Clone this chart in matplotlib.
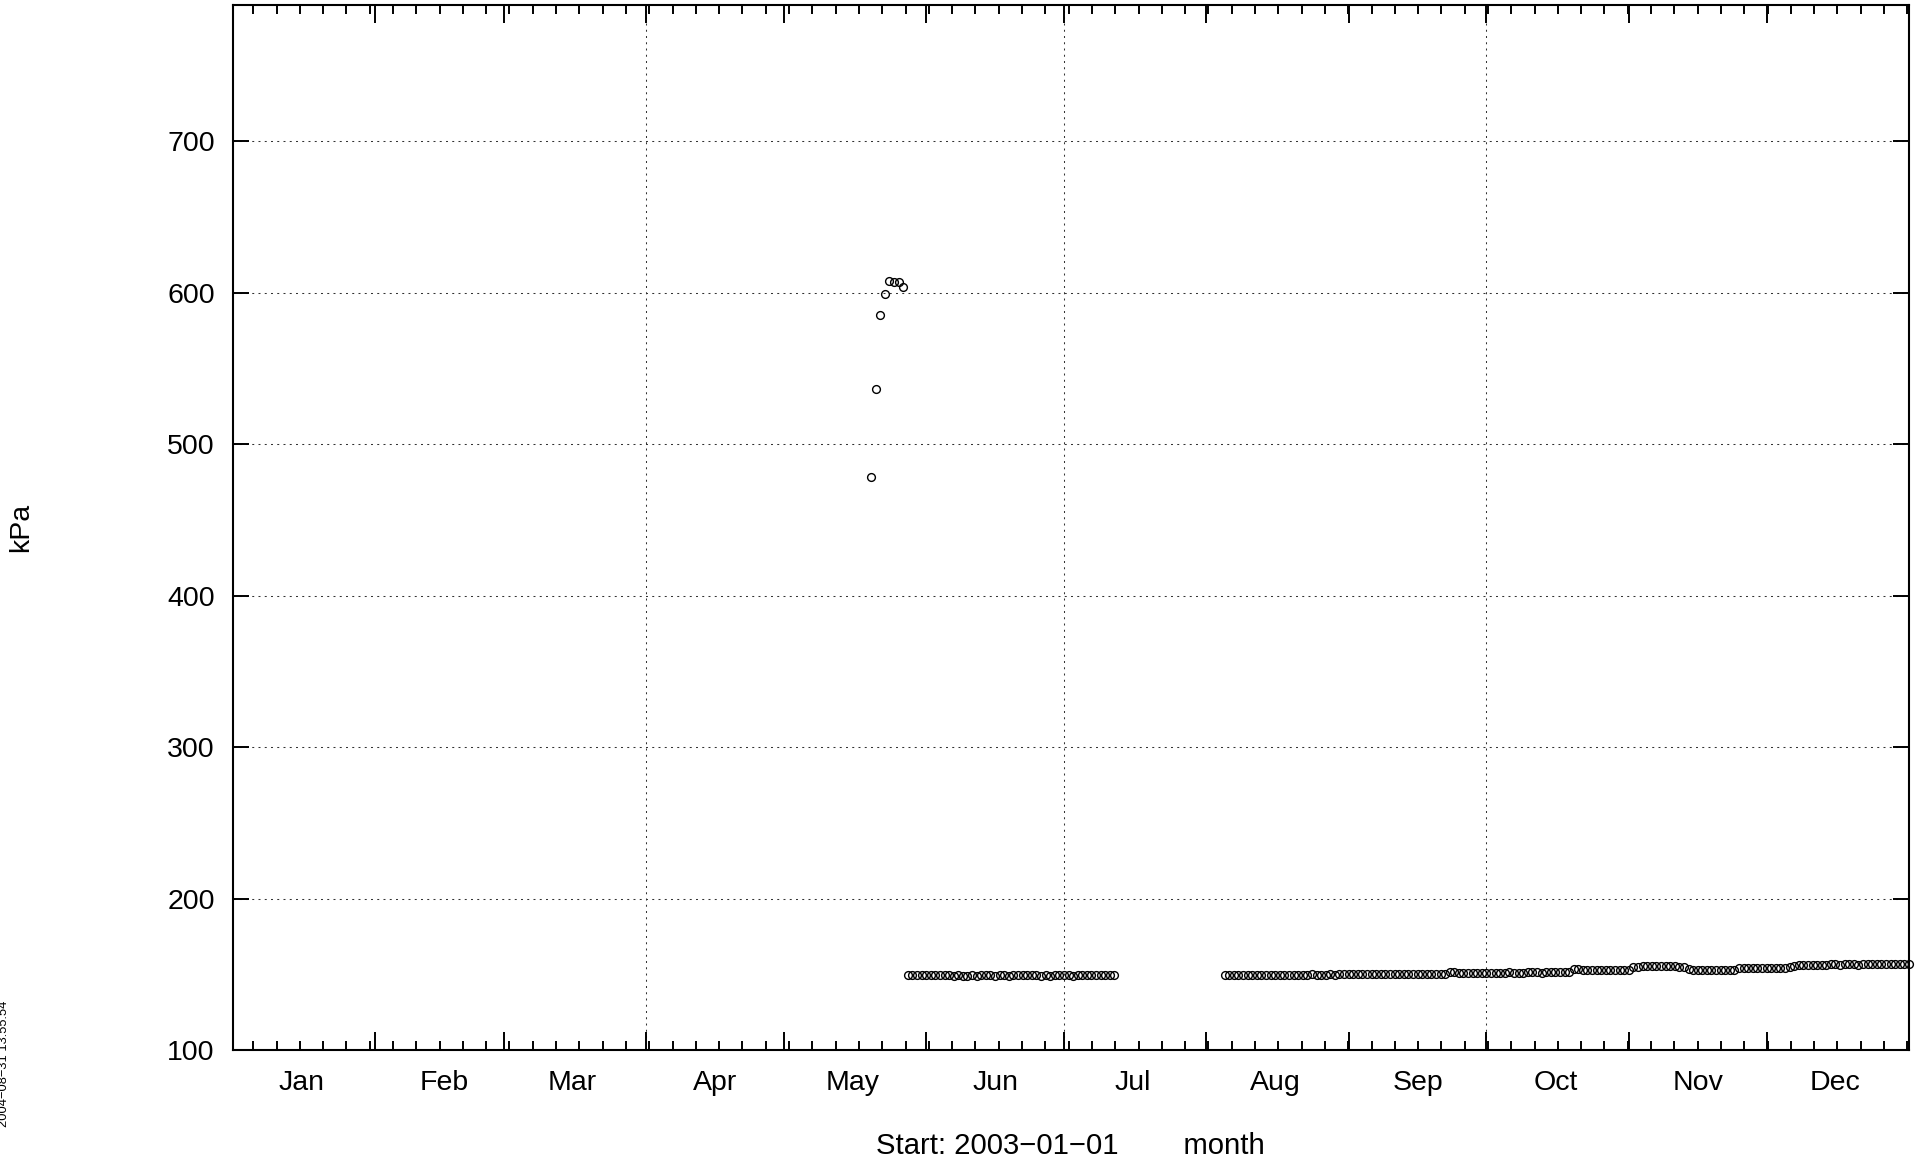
import numpy as np
import pandas as pd
import matplotlib
matplotlib.use("Agg")
import matplotlib.pyplot as plt
import matplotlib.dates as mdates
from datetime import datetime

plt.rcParams['font.family'] = ['Liberation Sans', 'DejaVu Sans']

# ---------------- dados ----------------
# pressão (kPa), valores diários
inicio_pico = "2003-05-20"
valores_pico = [478.5, 536.5, 585.0, 599.0, 607.5, 607.3, 607.0, 604.0]

inicio_meio = "2003-05-28"
valores_meio = [149.6, 149.5, 149.5, 149.4, 149.5, 149.4, 149.3, 149.4, 149.3, 149.3,
                149.2, 149.3, 149.2, 149.2, 149.3, 149.2, 149.3, 149.4, 149.3, 149.2,
                149.3, 149.3, 149.2, 149.3, 149.4, 149.3, 149.3, 149.4, 149.3, 149.2,
                149.3, 149.2, 149.3, 149.3, 149.4, 149.3, 149.2, 149.3, 149.4, 149.3,
                149.4, 149.3, 149.4, 149.4, 149.3, 149.4]

inicio_fim = "2003-08-05"
valores_fim = [149.6, 149.5, 149.6, 149.5, 149.5, 149.6, 149.5, 149.6, 149.7, 149.6,
               149.5, 149.7, 149.6, 149.7, 149.8, 149.7, 149.6, 149.7, 149.8, 149.9,
               149.8, 149.7, 149.8, 149.9, 149.8,
               150.0, 149.9, 150.0, 150.1, 150.0, 150.1, 150.2, 150.1, 150.0, 150.1,
               150.2, 150.3, 150.2, 150.1, 150.2, 150.3, 150.2, 150.3, 150.4, 150.3,
               150.2, 150.3, 150.4, 150.3,
               151.6, 151.3,
               150.9, 150.8, 150.9, 151.0, 150.9, 151.0, 151.1, 151.0, 150.9, 151.0,
               151.1, 151.2, 151.1, 151.0, 151.1, 151.2, 151.3, 151.2, 151.1, 151.2,
               151.3, 151.4, 151.3, 151.4, 151.5,
               153.6, 153.3, 152.9, 152.8, 152.7, 152.8, 152.9, 152.8, 152.7, 152.8,
               152.9, 152.8, 152.9,
               154.6, 155.1, 155.3, 155.4, 155.3, 155.2, 155.4, 155.3, 155.2, 155.3,
               155.1, 154.6,
               153.2, 152.8, 152.7, 152.8, 152.9, 152.8, 152.7, 152.9, 153.0, 152.9,
               153.1,
               154.1, 154.3, 154.2, 154.3, 154.4, 154.3, 154.2, 154.4, 154.3, 154.2,
               154.4, 154.5,
               155.8, 156.1, 156.0, 155.9, 156.1, 156.0, 155.9, 156.0,
               156.6, 156.5, 156.4, 156.5, 156.6, 156.5, 156.4, 156.5, 156.6, 156.7,
               156.6, 156.5, 156.6, 156.7, 156.6, 156.5, 156.6, 156.7]

meses = ["Jan", "Feb", "Mar", "Apr", "May", "Jun", "Jul", "Aug", "Sep", "Oct", "Nov", "Dec"]
yticks = [100, 200, 300, 400, 500, 600, 700]
linhas_grade_x = ["2003-04-01", "2003-07-01", "2003-10-01"]

# ---------------- montagem ----------------
datas = np.concatenate([
    pd.date_range(inicio_pico, periods=len(valores_pico), freq="D"),
    pd.date_range(inicio_meio, periods=len(valores_meio), freq="D"),
    pd.date_range(inicio_fim, periods=len(valores_fim), freq="D"),
])
valores = valores_pico + valores_meio + valores_fim

fig = plt.figure(figsize=(19.23, 11.68), dpi=100)
ax = fig.add_axes([0.121, 0.101, 0.8717, 0.8947])

ax.plot(datas, valores, linestyle="none", marker="o", markersize=5.6,
        markerfacecolor="none", markeredgecolor="black", markeredgewidth=1.0,
        clip_on=False, zorder=3)

x0 = mdates.date2num(datetime(2003, 1, 1))
x1 = mdates.date2num(datetime(2004, 1, 1))
ax.set_xlim(x0, x1)
ax.set_ylim(100, 790)

# ticks do eixo x: meses (maiores) e subdivisões (menores)
inicios_mes = [mdates.date2num(datetime(2003, m, 1)) for m in range(1, 13)] + [x1]
ax.set_xticks(inicios_mes)
ax.set_xticklabels([])
passo = 365.25 / 72
ax.set_xticks(x0 - 0.6 + passo * np.arange(1, 73), minor=True)
ax.tick_params(axis="x", which="major", direction="in", length=12.7, width=1.4,
               top=True, bottom=True)
ax.tick_params(axis="x", which="minor", direction="in", length=6.5, width=1.4,
               top=True, bottom=True)

ax.set_yticks(yticks)
ax.tick_params(axis="y", direction="in", length=11.5, width=1.4, left=True, right=True,
               labelsize=20.5, pad=13)

for s in ax.spines.values():
    s.set_linewidth(1.5)

# grade pontilhada
estilo_grade = dict(color="#333333", linewidth=0.75, linestyle=(0, (1.9, 4.1)))
ax.yaxis.grid(True, **estilo_grade)
for d in linhas_grade_x:
    ax.axvline(mdates.date2num(datetime.fromisoformat(d)), zorder=1, **estilo_grade)

# rótulos dos meses no meio de cada mês
for i, nome in enumerate(meses):
    xm = mdates.date2num(datetime(2003, i + 1, 16))
    ax.text(xm, -0.0383, nome, transform=ax.get_xaxis_transform(),
            ha="center", va="baseline", fontsize=20.5)

ax.set_xlabel("Start: 2003\u221201\u221201        month", fontsize=21.1)
ax.xaxis.set_label_coords(0.5, -0.0784)
ax.set_ylabel("kPa", fontsize=20.5)
ax.yaxis.set_label_coords(-0.1185, 0.5)

fig.text(4 / 1923, 0.089, "2004\u221208\u221231 13:55:54", rotation=90,
         ha="center", va="center", fontsize=9.3)

fig.savefig("out.png", dpi=100)
